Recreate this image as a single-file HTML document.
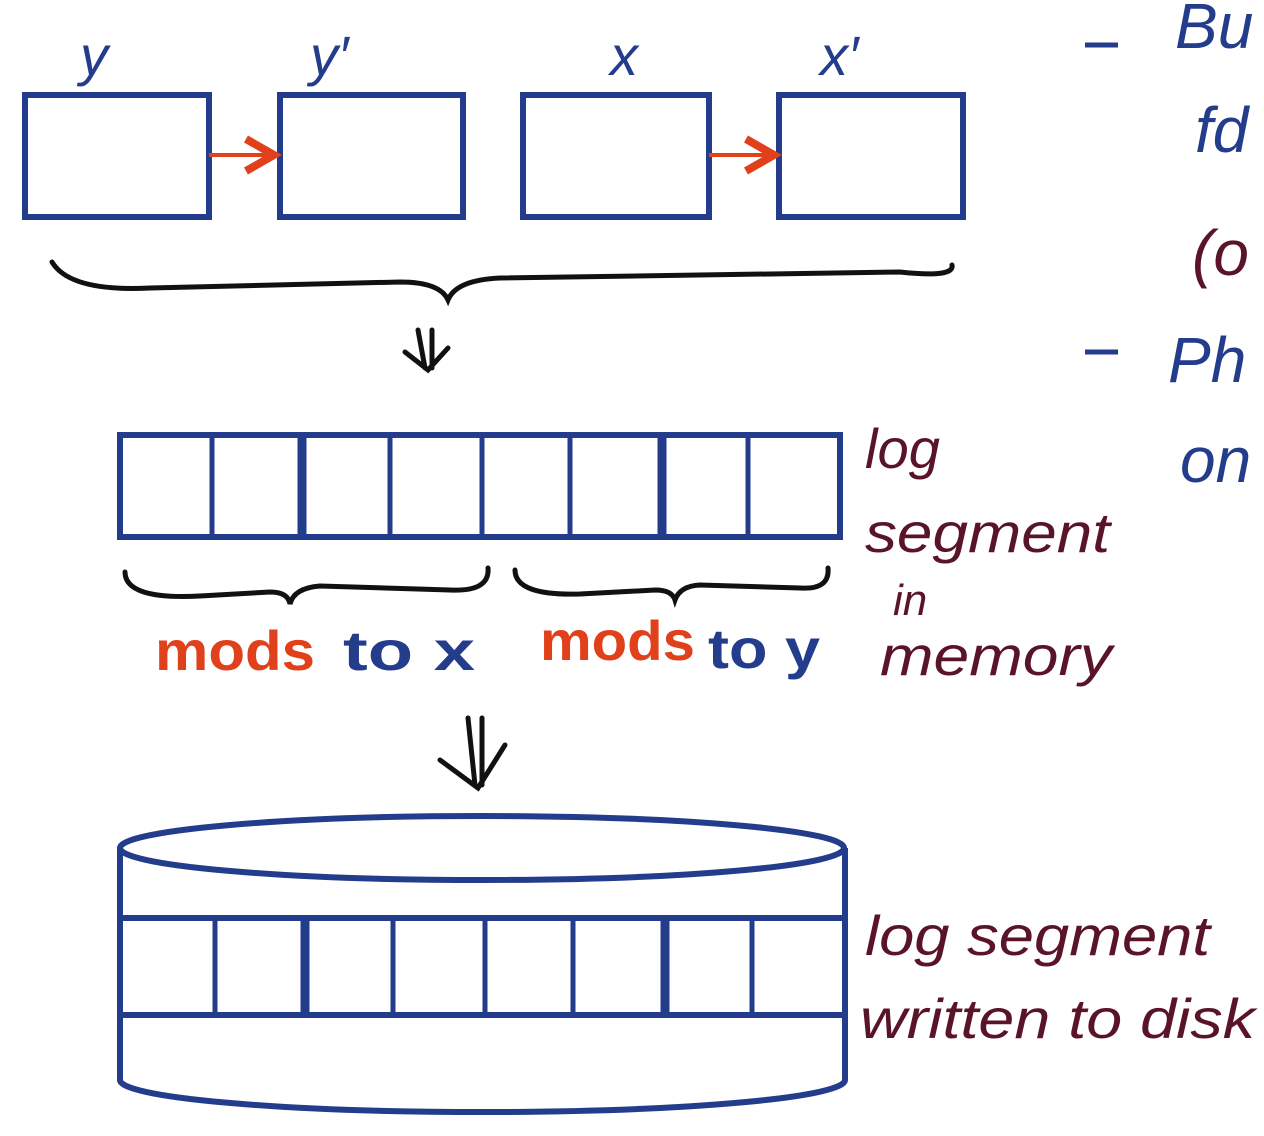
<!DOCTYPE html>
<html><head><meta charset="utf-8"><style>
html,body{margin:0;padding:0;background:#fff;}
svg{display:block;}
text{font-family:"Liberation Sans",sans-serif;}
</style></head><body>
<svg width="1264" height="1136" viewBox="0 0 1264 1136">
<defs>
<marker id="ah" markerWidth="10" markerHeight="10" refX="8" refY="5" orient="auto"><path d="M1,1 L8,5 L1,9" fill="none" stroke="#e0401a" stroke-width="2"/></marker>
</defs>
<g stroke="#243c8c" stroke-width="6" fill="none">
<rect x="25" y="95" width="184" height="122"/>
<rect x="280" y="95" width="183" height="122"/>
<rect x="523" y="95" width="186" height="122"/>
<rect x="779" y="95" width="184" height="122"/>
</g>
<g stroke="#e0401a" stroke-width="4" fill="none">
<line x1="209" y1="155" x2="274" y2="155" marker-end="url(#ah)"/>
<line x1="709" y1="155" x2="774" y2="155" marker-end="url(#ah)"/>
</g>
<g fill="#243c8c" font-size="56" font-style="italic">
<text x="80" y="75">y</text>
<text x="310" y="75">y′</text>
<text x="610" y="75">x</text>
<text x="820" y="75">x′</text>
</g>
<g stroke="#111" stroke-width="5" fill="none" stroke-linecap="round">
<path d="M52,262 Q70,292 150,288 L400,282 Q440,282 448,300 Q456,280 500,278 L900,272 Q955,278 952,265"/>
<path d="M125,572 Q125,600 200,596 L270,592 Q288,592 290,604 Q294,588 320,586 L450,590 Q490,592 488,568"/>
<path d="M515,570 Q515,596 580,594 L655,590 Q672,590 675,600 Q680,586 700,585 L800,588 Q830,590 828,568"/>
<path d="M418,330 L425,368 M432,330 L432,368 M405,352 L428,370 L448,348"/>
<path d="M468,718 L475,785 M482,718 L482,785 M440,760 L478,788 L505,745"/>
</g>
<g stroke="#243c8c" fill="none">
<rect x="120" y="435" width="720" height="102" stroke-width="6"/>
<g stroke-width="5"><line x1="212" y1="435" x2="212" y2="537"/><line x1="390" y1="435" x2="390" y2="537"/><line x1="482" y1="435" x2="482" y2="537"/><line x1="570" y1="435" x2="570" y2="537"/><line x1="748" y1="435" x2="748" y2="537"/></g>
<g stroke-width="9"><line x1="302" y1="435" x2="302" y2="537"/><line x1="662" y1="435" x2="662" y2="537"/></g>
</g>
<g stroke="#243c8c" fill="none" stroke-width="6">
<ellipse cx="482" cy="848" rx="362" ry="32"/>
<line x1="120" y1="848" x2="120" y2="1080"/>
<line x1="845" y1="848" x2="845" y2="1080"/>
<path d="M120,1080 A362,32 0 0 0 845,1080"/>
<line x1="120" y1="918" x2="845" y2="918"/>
<line x1="120" y1="1015" x2="845" y2="1015"/>
<g stroke-width="5"><line x1="215" y1="918" x2="215" y2="1015"/><line x1="393" y1="918" x2="393" y2="1015"/><line x1="485" y1="918" x2="485" y2="1015"/><line x1="573" y1="918" x2="573" y2="1015"/><line x1="752" y1="918" x2="752" y2="1015"/></g>
<g stroke-width="9"><line x1="305" y1="918" x2="305" y2="1015"/><line x1="665" y1="918" x2="665" y2="1015"/></g>
</g>
<g font-size="56" font-weight="bold">
<text x="155" y="670" fill="#e0401a" textLength="160" lengthAdjust="spacingAndGlyphs">mods</text>
<text x="343" y="670" fill="#243c8c" textLength="132" lengthAdjust="spacingAndGlyphs">to x</text>
<text x="540" y="660" fill="#e0401a" textLength="155" lengthAdjust="spacingAndGlyphs">mods</text>
<text x="708" y="668" fill="#243c8c" textLength="112" lengthAdjust="spacingAndGlyphs">to y</text>
</g>
<g fill="#5a1428" font-size="56" font-family="Liberation Serif" font-style="italic">
<text x="865" y="468" textLength="75" lengthAdjust="spacingAndGlyphs">log</text>
<text x="865" y="552" textLength="245" lengthAdjust="spacingAndGlyphs">segment</text>
<text x="893" y="615" font-size="44">in</text>
<text x="880" y="675" textLength="232" lengthAdjust="spacingAndGlyphs">memory</text>
<text x="865" y="955" textLength="345" lengthAdjust="spacingAndGlyphs">log segment</text>
<text x="860" y="1038" textLength="395" lengthAdjust="spacingAndGlyphs">written to disk</text>
<text x="1195" y="152" font-size="64" fill="#243c8c">fd</text>
<text x="1192" y="275" font-size="64">(o</text>
<text x="1180" y="482" font-size="64" fill="#243c8c">on</text>
</g>
<g fill="#243c8c" font-size="64" font-family="Liberation Serif" font-style="italic">
<line x1="1085" y1="45" x2="1118" y2="45" stroke="#243c8c" stroke-width="5"/>
<text x="1175" y="48">Bu</text>
<line x1="1085" y1="352" x2="1118" y2="352" stroke="#243c8c" stroke-width="5"/>
<text x="1168" y="382">Ph</text>
</g>
</svg>
</body></html>
